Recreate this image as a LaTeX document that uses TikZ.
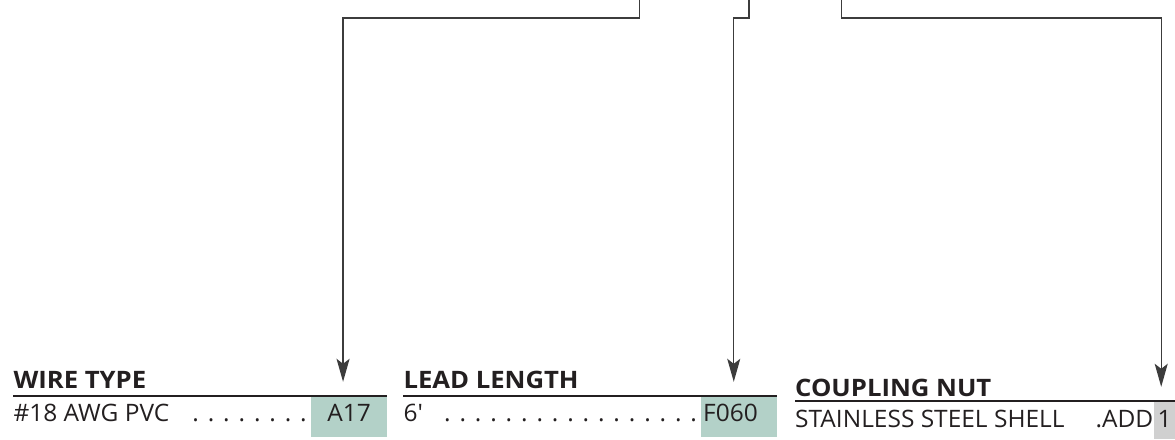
\documentclass[tikz,border=0pt]{standalone}
\usepackage{fontspec}
\setmainfont{Open Sans}[Ligatures=TeXOff, FakeStretch=1.02]
\newfontfamily\headfont{Open Sans}[Ligatures=TeXOff, FakeStretch=1.07]
\usetikzlibrary{arrows.meta, positioning, calc}
\definecolor{codeteal}{RGB}{179,209,200}
\definecolor{codegray}{RGB}{208,208,208}
\definecolor{ink}{RGB}{35,31,32}
\definecolor{wirecol}{RGB}{60,60,60}
\newcommand\leaderdots[1]{\xleaders\hbox to 15.4pt{\hss.\hss}\hskip\dimexpr 15.4pt*#1\relax}

\begin{document}
\begin{tikzpicture}[x=1pt, y=-1pt,
  every node/.style={inner sep=0pt, text=ink, font=\fontsize{24}{28}\selectfont},
  head/.style={anchor=base west, font=\fontsize{24}{28}\headfont\bfseries},
  row/.style={anchor=base west},
  codebox/.style={anchor=base west, text height=25pt, text depth=15.3pt},
  rule/.style={line width=1.6pt, draw=ink},
  conn/.style={line width=1.4pt, draw=wirecol, -{Stealth[length=23pt, width=13pt, inset=5pt]}}]
\useasboundingbox (0,0) rectangle (1175,439);

\node[head] (wirehead) at (13.3,388) {WIRE TYPE};
\draw[rule] (13.3,395.7) -- (386.7,395.7);
\node[codebox, fill=codeteal, minimum width=75.7pt] (wirebox) at (311,421.7) {A17};
\node[row] (wirerow) at (13.3,421.7) {\hbox to 297.7pt{\#18 AWG PVC\hfill\leaderdots{8}}};

\node[head] (leadhead) at (403.3,388) {LEAD LENGTH};
\draw[rule] (403.3,395.7) -- (776.7,395.7);
\node[row] (leadrow) at (403.3,421.7) {\hbox to 298pt{6'\hfill\leaderdots{17}}};
\node[codebox, fill=codeteal, minimum width=75.7pt] (leadbox) at (701,421.7) {\hbox to 71.7pt{F060\hfil}};

\node[head] (nuthead) at (795,396.7) {COUPLING NUT};
\draw[rule] (795,401) -- (1175,401);
\node[row] (nutrow) at (795,427.3) {\hbox to 358pt{STAINLESS STEEL SHELL\hfill.ADD}};
\node[codebox, fill=codegray, minimum width=21pt, text height=25.3pt, text depth=11.7pt] (nutbox) at (1154,427.3) {1};

\coordinate (wiresrc) at (639.5,-1);
\coordinate (leadsrc) at (749,-1);
\coordinate (nutsrc) at (841.5,-1);
\coordinate (wiretip) at ([xshift=-6pt, yshift=14.7pt]wirebox.north);
\coordinate (leadtip) at ([xshift=-5.3pt, yshift=14.7pt]leadbox.north);
\coordinate (nuttip) at ([xshift=-3.5pt, yshift=15pt]nutbox.north);
\foreach \src/\tip in {wiresrc/wiretip, leadsrc/leadtip, nutsrc/nuttip}
  \draw[conn] (\src) -- ++(0,19) -| (\tip);
\end{tikzpicture}
\end{document}
